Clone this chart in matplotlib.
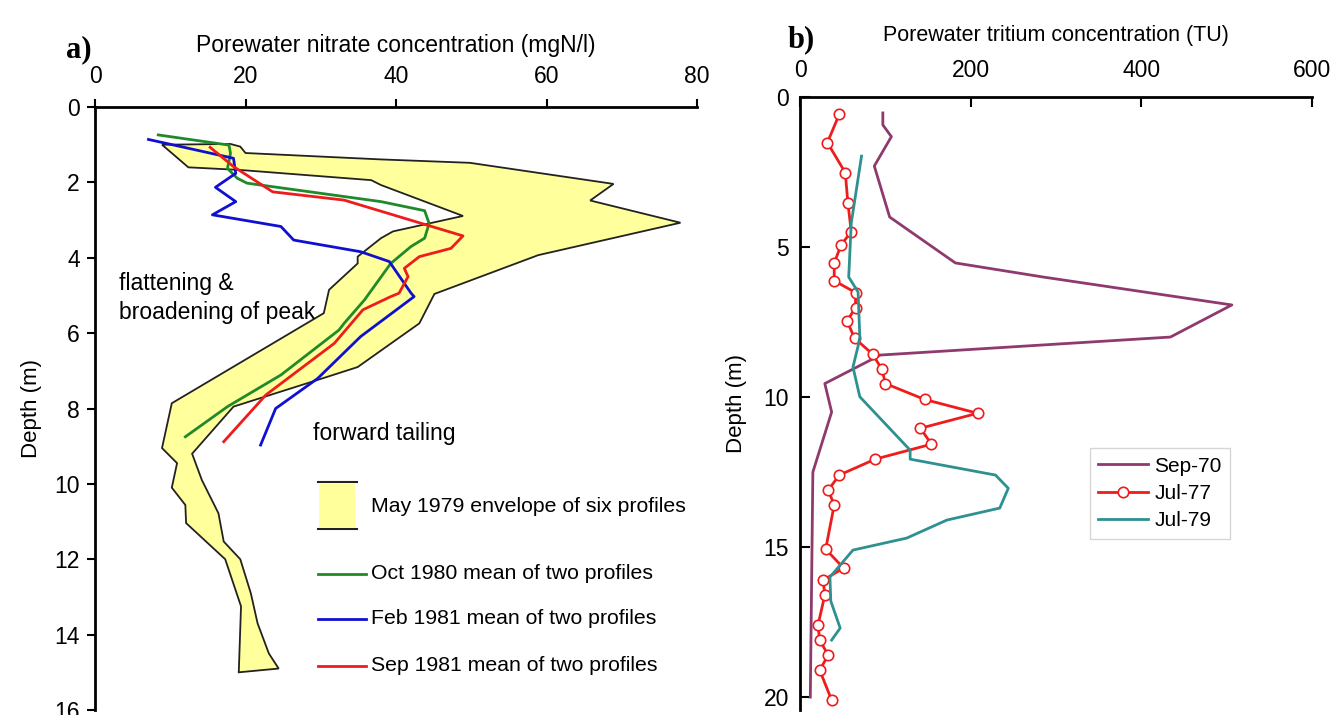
import matplotlib
matplotlib.use('Agg')
import matplotlib.pyplot as plt
from matplotlib.lines import Line2D
from matplotlib.patches import Rectangle

plt.rcParams['font.family'] = ['Liberation Sans', 'DejaVu Sans']

# --- panel a: nitrate (mgN/l) vs depth (m) ---
# envelope of six May 1979 profiles, right edge top->bottom then left edge bottom->top
env_right_x = [19.3, 20.0, 38.0, 49.8, 68.9, 65.8, 77.8, 58.9, 45.1, 43.1, 34.9, 29.6,
               18.4, 12.9, 14.2, 16.4, 17.1, 19.3, 20.7, 21.6, 23.1, 24.4]
env_right_d = [1.05, 1.22, 1.39, 1.48, 2.04, 2.48, 3.07, 3.93, 4.96, 5.74, 6.90, 7.24,
               7.95, 9.20, 9.90, 10.78, 11.53, 12.00, 12.90, 13.70, 14.50, 14.90]
env_left_x = [19.1, 19.4, 17.3, 12.1, 12.0, 10.2, 10.9, 8.9, 10.2, 30.4, 31.1, 34.9,
              34.9, 38.0, 39.6, 48.9, 38.0, 36.7, 19.3, 12.4, 8.9, 18.0]
env_left_d = [15.0, 13.25, 12.0, 11.04, 10.56, 10.1, 9.45, 9.05, 7.86, 5.47, 4.85, 4.15,
              3.97, 3.48, 3.30, 2.89, 2.07, 1.94, 1.67, 1.60, 1.00, 0.98]

oct80_x = [8.4, 17.8, 18.0, 17.6, 18.9, 20.2, 38.0, 43.8, 44.4, 43.8, 42.0, 39.3,
           35.8, 33.1, 32.4, 24.7, 17.6, 12.0]
oct80_d = [0.74, 1.01, 1.23, 1.63, 1.89, 2.02, 2.51, 2.75, 3.09, 3.48, 3.70, 4.15,
           5.12, 5.74, 5.92, 7.11, 7.95, 8.75]

feb81_x = [7.1, 18.4, 18.7, 16.0, 18.7, 15.6, 24.7, 26.4, 35.3, 39.1, 42.0, 42.4,
           41.8, 35.3, 29.6, 24.0, 22.0]
feb81_d = [0.86, 1.36, 1.76, 2.13, 2.51, 2.86, 3.17, 3.53, 3.84, 4.10, 4.94, 5.03,
           5.12, 6.09, 7.20, 8.00, 8.97]

sep81_x = [15.3, 18.4, 23.6, 33.1, 48.9, 47.3, 43.1, 41.1, 41.6, 40.4, 39.3, 35.6,
           31.8, 22.7, 17.1]
sep81_d = [1.07, 1.58, 2.25, 2.47, 3.42, 3.75, 3.97, 4.28, 4.50, 4.94, 5.03, 5.38,
           6.27, 7.64, 8.88]

# --- panel b: tritium (TU) vs depth (m) ---
sep70_tu = [97, 97, 107, 87, 105, 182, 285, 506, 434, 94, 29, 37, 15, 12]
sep70_d = [0.53, 0.93, 1.32, 2.30, 4.00, 5.53, 6.00, 6.93, 8.00, 8.60, 9.55, 10.50, 12.50, 20.0]

jul77_tu = [46, 32, 53, 56, 60, 48, 40, 40, 65, 65, 55, 64, 85, 96, 100, 146, 208, 141,
            154, 88, 46, 33, 40, 30, 51, 27, 29, 21, 23, 33, 23, 37]
jul77_d = [0.57, 1.52, 2.52, 3.52, 4.49, 4.93, 5.54, 6.12, 6.52, 7.02, 7.47, 8.04, 8.57,
           9.08, 9.55, 10.08, 10.54, 11.04, 11.57, 12.07, 12.60, 13.10, 13.60, 15.07,
           15.70, 16.10, 16.60, 17.60, 18.10, 18.60, 19.10, 20.10]

jul79_tu = [72, 60, 57, 68, 70, 68, 62, 70, 129, 129, 229, 244, 234, 172, 125, 62,
            35, 36, 47, 37]
jul79_d = [1.97, 4.20, 6.00, 6.50, 8.00, 8.30, 9.00, 9.99, 11.77, 12.07, 12.60, 13.04,
           13.70, 14.10, 14.70, 15.10, 16.00, 16.80, 17.70, 18.10]

c_green = '#1f8a2a'
c_blue = '#1010d0'
c_red = '#ee1c1c'
c_purple = '#8e3a6e'
c_teal = '#2f9090'

fig = plt.figure(figsize=(13.33, 7.15), dpi=100)

# ================= panel a =================
ax = fig.add_axes([0.0713, 0.007, 0.4516, 0.8433])
ax.fill(env_right_x + env_left_x, env_right_d + env_left_d,
        facecolor='#ffff9c', edgecolor='#222222', linewidth=1.3, zorder=1)
ax.plot(oct80_x, oct80_d, color=c_green, lw=2, zorder=3)
ax.plot(feb81_x, feb81_d, color=c_blue, lw=2, zorder=3)
ax.plot(sep81_x, sep81_d, color=c_red, lw=2, zorder=3)

ax.set_xlim(0, 80)
ax.set_ylim(16, 0)
ax.set_xticks([0, 20, 40, 60, 80])
ax.set_yticks(range(0, 17, 2))
ax.xaxis.tick_top()
ax.xaxis.set_label_position('top')
for s in ['right', 'bottom']:
    ax.spines[s].set_visible(False)
for s in ['top', 'left']:
    ax.spines[s].set_linewidth(2)
ax.tick_params(direction='out', length=6, width=1.5, labelsize=16.5)
ax.tick_params(axis='x', pad=8)
ax.tick_params(axis='y', pad=5)
ax.set_xlabel('Porewater nitrate concentration (mgN/l)', fontsize=16.5, labelpad=9)
ax.set_ylabel('Depth (m)', fontsize=16, labelpad=9)

ax.text(0.04, 0.683, 'flattening &\nbroadening of peak', transform=ax.transAxes,
        fontsize=16.5, va='center', ha='left', linespacing=1.3)
ax.text(0.362, 0.459, 'forward tailing', transform=ax.transAxes,
        fontsize=16.5, va='center', ha='left')

# hand-made legend (axes fraction)
ax.add_patch(Rectangle((0.372, 0.303), 0.06, 0.072, transform=ax.transAxes,
                       facecolor='#ffff9c', edgecolor='none', clip_on=False))
for yy in [0.378, 0.301]:
    ax.add_line(Line2D([0.37, 0.435], [yy, yy], transform=ax.transAxes,
                       color='#222222', lw=1.5))
ax.text(0.459, 0.337, 'May 1979 envelope of six profiles', transform=ax.transAxes,
        fontsize=15.3, va='center')
leg_rows = [(c_green, 0.226, 'Oct 1980 mean of two profiles'),
            (c_blue, 0.151, 'Feb 1981 mean of two profiles'),
            (c_red, 0.073, 'Sep 1981 mean of two profiles')]
for col, yy, lab in leg_rows:
    ax.add_line(Line2D([0.37, 0.45], [yy, yy], transform=ax.transAxes, color=col, lw=2))
    ax.text(0.459, yy, lab, transform=ax.transAxes, fontsize=15.3, va='center')

fig.text(0.059, 0.931, 'a)', fontsize=22, fontweight='bold',
         family=['Liberation Serif', 'DejaVu Serif'], ha='center', va='center')

# ================= panel b =================
bx = fig.add_axes([0.6002, 0.007, 0.3841, 0.8573])
bx.plot(sep70_tu, sep70_d, color=c_purple, lw=2, label='Sep-70')
bx.plot(jul77_tu, jul77_d, color=c_red, lw=2, marker='o', markersize=7.5,
        markerfacecolor='white', markeredgecolor=c_red, markeredgewidth=1.2, label='Jul-77')
bx.plot(jul79_tu, jul79_d, color=c_teal, lw=2, label='Jul-79')

bx.set_xlim(0, 600)
bx.set_ylim(20.43, 0)
bx.set_xticks([0, 200, 400, 600])
bx.set_yticks([0, 5, 10, 15, 20])
bx.xaxis.tick_top()
bx.xaxis.set_label_position('top')
for s in ['right', 'bottom']:
    bx.spines[s].set_visible(False)
for s in ['top', 'left']:
    bx.spines[s].set_linewidth(2)
bx.tick_params(direction='in', length=7, width=1.5, labelsize=16.5)
bx.tick_params(axis='x', pad=11)
bx.tick_params(axis='y', pad=8)
bx.set_xlabel('Porewater tritium concentration (TU)', fontsize=15.5, labelpad=13)
bx.set_ylabel('Depth (m)', fontsize=16, labelpad=12)

leg = bx.legend(loc='upper left', bbox_to_anchor=(0.566, 0.427), borderaxespad=0,
                fontsize=15, frameon=True, fancybox=False, edgecolor='#cccccc',
                handlelength=2.4, borderpad=0.4, labelspacing=0.4, handletextpad=0.3)
leg.get_frame().set_linewidth(1)

fig.text(0.601, 0.944, 'b)', fontsize=22, fontweight='bold',
         family=['Liberation Serif', 'DejaVu Serif'], ha='center', va='center')

fig.savefig('out.png', dpi=100)
